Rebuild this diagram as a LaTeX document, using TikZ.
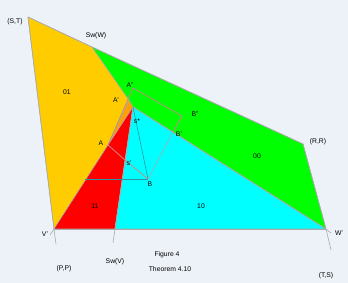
\documentclass[tikz,border=0pt]{standalone}
\usepackage{fontspec}
\setmainfont{Liberation Sans}
\usepackage{xcolor}
\usepackage{tikz}
\definecolor{bgcol}{RGB}{237,242,248}
\definecolor{yellowreg}{RGB}{255,204,0}
\definecolor{orangereg}{RGB}{255,160,0}
\definecolor{greenreg}{RGB}{0,255,0}
\definecolor{cyanreg}{RGB}{0,255,255}
\definecolor{redreg}{RGB}{255,0,0}
\definecolor{rectpink}{RGB}{196,140,136}
\definecolor{edgegray}{RGB}{170,170,170}
\definecolor{tealdark}{RGB}{40,150,160}
\tikzset{
  regionfill/.style={draw=edgegray,line width=0.5pt,line join=round},
  edgeline/.style={draw=edgegray,line width=0.6pt},
  rectline/.style={draw=rectpink,line width=0.8pt},
  sline/.style={draw=tealdark,line width=0.6pt},
  ptlabel/.style={font=\fontsize{6.8}{8}\selectfont,inner sep=0pt,text=black}
}

\begin{document}
\begin{tikzpicture}[x=1pt,y=-1pt]
  \useasboundingbox[fill=bgcol] (0,0) rectangle (348,283);
  \coordinate (ST) at (28,17);
  \coordinate (SwW) at (92,47);
  \coordinate (RR) at (303,144);
  \coordinate (Wp) at (326,229);
  \coordinate (Vp) at (54,229);
  \coordinate (SwV) at (115,229);
  \coordinate (sstar) at (133,107);
  \coordinate (A) at (108,145);
  \coordinate (Ap) at (129,100);
  \coordinate (App) at (133,88);
  \coordinate (Bpp) at (182,116);
  \coordinate (Bp) at (173,132);
  \coordinate (B) at (148,179);
  \coordinate (sp) at (125,160);
  \coordinate (H) at (85,179);
  \coordinate (PPend) at (56,244);
  \coordinate (SwVend) at (113,243);
  \coordinate (Wpend) at (331,250);
  \coordinate (Vtick) at (50,235);
  \coordinate (Wtick) at (331,233);

  \fill[regionfill,fill=yellowreg] (ST)--(SwW)--(Ap)--(A)--(Vp)--cycle;
  \fill[regionfill,fill=orangereg] (Ap)--(sstar)--(A)--cycle;
  \fill[regionfill,fill=greenreg] (SwW)--(RR)--(Wp)--(sstar)--(Ap)--cycle;
  \fill[regionfill,fill=redreg] (Vp)--(A)--(sstar)--(SwV)--cycle;
  \fill[regionfill,fill=cyanreg] (sstar)--(Wp)--(SwV)--cycle;

  \draw[edgeline] (ST)--(SwW)--(RR)--(Wp)--(Wpend);
  \draw[edgeline] (ST)--(Vp)--(PPend);
  \draw[edgeline] (Vp)--(Wp);
  \draw[edgeline] (sstar)--(SwV)--(SwVend);
  \draw[edgeline] (sstar)--(Wp);
  \draw[edgeline] (Vp)--(Vtick);
  \draw[edgeline] (Wp)--(Wtick);

  \draw[sline] (H)--(B);
  \draw[sline] (sstar)--(B);
  \draw[edgeline] (B)--(Bp);
  \draw[rectline] (A)--(sp)--(B);
  \draw[rectline] (A)--(App)--(Bpp)--(Bp);

  \node[ptlabel] (lST) at (15,22) {(S,T)};
  \node[ptlabel] (lSwW) at (96,36) {Sw(W)};
  \node[ptlabel] (lRR) at (318,142) {(R,R)};
  \node[ptlabel] (lWp) at (339,233) {W'};
  \node[ptlabel] (lVp) at (45,234) {V'};
  \node[ptlabel] (lSwV) at (115,262) {Sw(V)};
  \node[ptlabel] (lPP) at (64,269) {(P,P)};
  \node[ptlabel] (lTS) at (326,276) {(T,S)};
  \node[ptlabel] (lApp) at (130,85) {A''};
  \node[ptlabel] (lAp) at (116,100) {A'};
  \node[ptlabel] (lA) at (101,143) {A};
  \node[ptlabel] (lsstar) at (137,121) {s*};
  \node[ptlabel] (lsp) at (129,163) {s'};
  \node[ptlabel] (lB) at (150,184) {B};
  \node[ptlabel] (lBp) at (179,134) {B'};
  \node[ptlabel] (lBpp) at (195,114) {B''};
  \node[ptlabel] (l01) at (67,92) {01};
  \node[ptlabel] (l00) at (257,156) {00};
  \node[ptlabel] (l11) at (95,206) {11};
  \node[ptlabel] (l10) at (201,206) {10};
  \node[ptlabel] (lfig) at (167,255) {Figure 4};
  \node[ptlabel] (lthm) at (170,269) {Theorem 4.10};
\end{tikzpicture}
\end{document}
